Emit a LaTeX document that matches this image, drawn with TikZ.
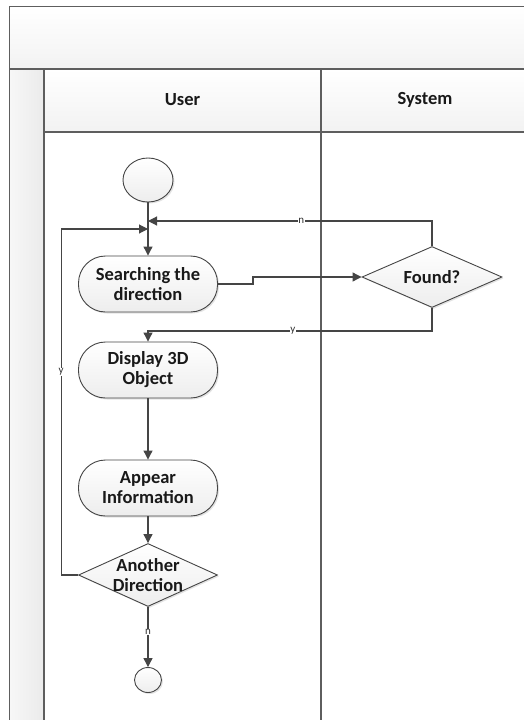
\documentclass[tikz,border=0pt]{standalone}
\usepackage{fontspec}
\setmainfont{Carlito}
\usetikzlibrary{shapes.geometric,arrows.meta,shadows}
\definecolor{edge}{HTML}{454545}
\definecolor{frm}{HTML}{5E5E5E}
\begin{document}
\begin{tikzpicture}[x=1pt,y=-1pt,
  frameline/.style={draw=frm, line width=1.7pt},
  shadowed/.style={drop shadow={opacity=0.22, shadow xshift=1.5pt, shadow yshift=-1.5pt}},
  act/.style={draw=edge, line width=0.9pt, rectangle, rounded corners=27pt,
    minimum width=139pt, minimum height=56pt, inner sep=0pt, align=center,
    top color=white, bottom color=gray!14, shadowed,
    font=\fontsize{18.5}{20}\selectfont\bfseries, text=black!90},
  dec/.style={draw=edge, line width=0.9pt, diamond, inner sep=0pt,
    top color=white, bottom color=gray!14, shadowed},
  dectext/.style={font=\fontsize{18.5}{20}\selectfont\bfseries, text=black!90, align=center},
  startnode/.style={draw=edge, line width=0.9pt, ellipse, inner sep=0pt,
    top color=white, bottom color=gray!14, shadowed},
  arr/.style={draw=edge, line width=1.1pt, -{Triangle[length=9pt,width=9pt]}},
  lbl/.style={fill=white, inner sep=0.5pt, font=\fontsize{11}{12}\selectfont, text=black!80},
  hdr/.style={font=\fontsize{18.5}{20}\selectfont\bfseries, text=black!90}]
\useasboundingbox (0,0) rectangle (524,720);
\begin{scope}
\clip (0,0) rectangle (524,720);
% title band
\path[top color=white, bottom color=gray!10] (9.5,6.5) rectangle (535,69);
% header band
\path[top color=white, bottom color=gray!10] (44,69) rectangle (535,132);
% left strip
\path[left color=gray!6, right color=gray!16] (9.5,69) rectangle (44,730);
\draw[frameline] (9.5,730) -- (9.5,6.5) -- (535,6.5);
\draw[frameline] (9.5,69) -- (535,69);
\draw[frameline] (44,132) -- (535,132);
\draw[frameline] (44,69) -- (44,730);
\draw[frameline] (321,69) -- (321,730);
\end{scope}
\node[hdr] (huser) at (182.5,100) {User};
\node[hdr] (hsys) at (425,100) {System};

% nodes
\node[startnode, minimum width=50pt, minimum height=44pt] (start) at (148,180) {};
\node[act] (search) at (148,284) {Searching the\\direction};
\node[dec, minimum width=140pt, minimum height=61pt] (found) at (432,277) {};
\node[dectext] (foundt) at (found.center) {Found?};
\node[act] (disp) at (148,370) {Display 3D\\Object};
\node[act] (appear) at (148,488) {Appear\\Information};
\node[dec, minimum width=139pt, minimum height=63pt] (another) at (148,575) {};
\node[dectext] (anothert) at (another.center) {Another\\Direction};
\node[startnode, minimum width=27pt, minimum height=25pt] (stop) at (148,680) {};

\coordinate (m1) at (148,221);
\coordinate (m2) at (148,229);
\coordinate (m3) at (148,331);

% connectors
\draw[arr] (start) -- (search);
\draw[arr] (found.north) |- node[lbl, pos=0.73] {n} (m1);
\draw[arr] (search.east) -- ++(35,0) |- (found.west);
\draw[arr] (found.south) |- node[lbl, pos=0.745] {y} (m3) -- (disp.north);
\draw[arr] (disp) -- (appear);
\draw[arr] (appear) -- (another);
\draw[arr] (another.south) -- node[lbl, pos=0.42] {n} (stop);
\draw[arr] (another.west) -- ++(-17,0) |- node[lbl, pos=0.293] {y} (m2);
\end{tikzpicture}
\end{document}
